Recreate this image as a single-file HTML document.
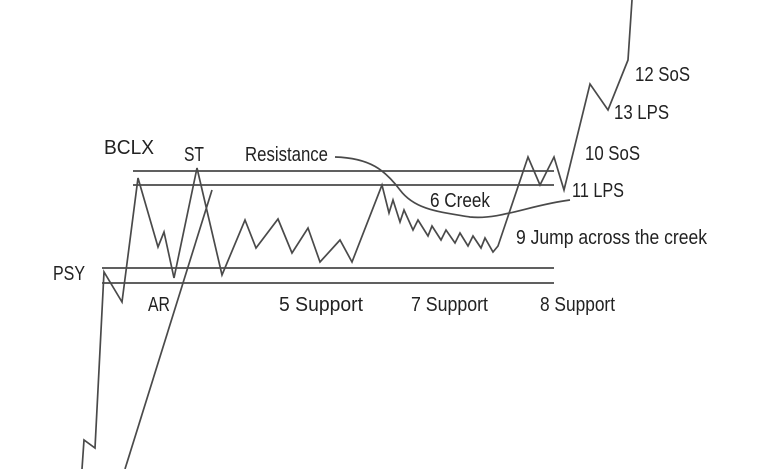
<!DOCTYPE html>
<html><head><style>
body{margin:0;background:#fff;}
svg{display:block}
text{font-family:"Liberation Sans",sans-serif;font-size:20px;fill:#222;}
</style></head><body>
<svg width="768" height="469" viewBox="0 0 768 469" xmlns="http://www.w3.org/2000/svg">
<g stroke="#4a4a4a" stroke-width="1.7" fill="none">
<line x1="133" y1="171" x2="554" y2="171"/>
<line x1="133" y1="185" x2="554" y2="185"/>
<line x1="102" y1="268" x2="554" y2="268"/>
<line x1="102" y1="283" x2="554" y2="283"/>
<polyline points="82,469 84,440 95,448 104,272 122,302 138,178 158,247 164,232 174,278 197,168 222,275 245,220 256,248 278,219 292,253 308,228 320,262 340,240 352,262 382,185 389,213 393,200 400,222 404,210 413,230 418,220 428,236 432,226 441,240 446,230 455,243 460,233 468,246 473,236 481,248 485,238 493,252 498,246 528,157 540,185 554,157 564,190 590,84 608,110 628,60 632,0"/>
<line x1="125" y1="469" x2="212" y2="190"/>
<path d="M335,157 C370,158 385,170 400,190 C415,210 440,212 470,217 C500,220 530,205 570,200"/>
</g>
<text x="53" y="280" textLength="32" lengthAdjust="spacingAndGlyphs">PSY</text>
<text x="104" y="154" font-size="19" textLength="50" lengthAdjust="spacingAndGlyphs">BCLX</text>
<text x="184" y="161" textLength="20" lengthAdjust="spacingAndGlyphs">ST</text>
<text x="245" y="161" textLength="83" lengthAdjust="spacingAndGlyphs">Resistance</text>
<text x="148" y="311" textLength="22" lengthAdjust="spacingAndGlyphs">AR</text>
<text x="279" y="311" font-size="19" textLength="84" lengthAdjust="spacingAndGlyphs">5 Support</text>
<text x="411" y="311" textLength="77" lengthAdjust="spacingAndGlyphs">7 Support</text>
<text x="540" y="311" textLength="75" lengthAdjust="spacingAndGlyphs">8 Support</text>
<text x="430" y="207" textLength="60" lengthAdjust="spacingAndGlyphs">6 Creek</text>
<text x="516" y="244" textLength="191" lengthAdjust="spacingAndGlyphs">9 Jump across the creek</text>
<text x="572" y="197" textLength="52" lengthAdjust="spacingAndGlyphs">11 LPS</text>
<text x="585" y="160" textLength="55" lengthAdjust="spacingAndGlyphs">10 SoS</text>
<text x="614" y="119" textLength="55" lengthAdjust="spacingAndGlyphs">13 LPS</text>
<text x="635" y="81" textLength="55" lengthAdjust="spacingAndGlyphs">12 SoS</text>
</svg>
</body></html>
